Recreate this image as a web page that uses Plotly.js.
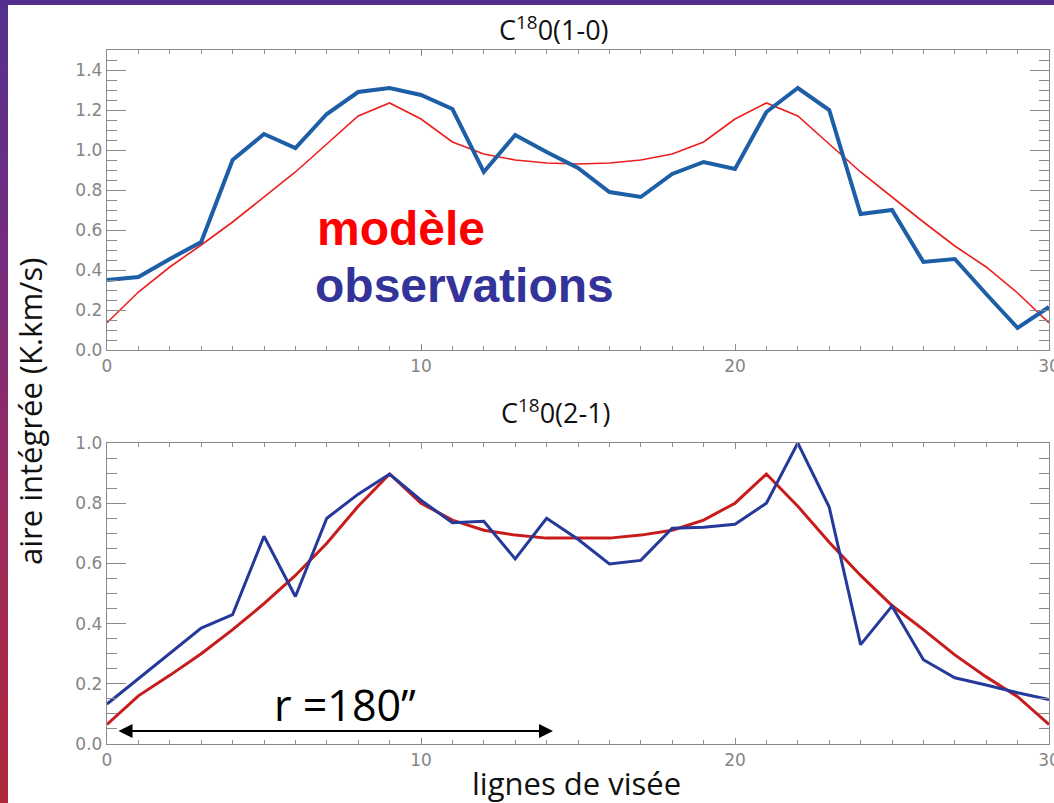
<!DOCTYPE html>
<html>
<head>
<meta charset="utf-8">
<script src="https://cdn.plot.ly/plotly-3.0.1.min.js"></script>
<style>
  html, body { margin: 0; padding: 0; }
  body { width: 1054px; height: 803px; position: relative; overflow: hidden; background: #ffffff; }
  #leftbar { position: absolute; left: 0; top: 0; width: 8px; height: 803px;
             background: linear-gradient(to bottom, #52308f 0%, #7a2c7c 35%, #9c2a5c 65%, #b0283a 100%); }
  #topbar { position: absolute; left: 0; top: 0; width: 1054px; height: 5px; background: #522f8f; }
  #chart { position: absolute; left: 0; top: 0; width: 1054px; height: 803px; }
</style>
</head>
<body>
<div id="leftbar"></div>
<div id="topbar"></div>
<div id="chart"></div>
<script>
// ---- data ----
const lines = [0,1,2,3,4,5,6,7,8,9,10,11,12,13,14,15,16,17,18,19,20,21,22,23,24,25,26,27,28,29,30];

// C18O (1-0)
const obs10 = [0.35,0.365,0.455,0.54,0.95,1.08,1.01,1.18,1.29,1.31,1.275,1.205,0.89,1.075,0.99,0.91,0.79,0.765,0.88,0.94,0.905,1.19,1.31,1.20,0.68,0.70,0.44,0.455,0.28,0.11,0.215];
const mod10 = [0.136,0.29,0.415,0.525,0.64,0.765,0.89,1.03,1.17,1.235,1.155,1.04,0.98,0.95,0.935,0.93,0.935,0.95,0.98,1.04,1.155,1.235,1.17,1.03,0.89,0.765,0.64,0.52,0.415,0.285,0.136];

// C18O (2-1)
const obs21 = [0.133,0.218,0.30,0.385,0.43,0.69,0.49,0.75,0.83,0.897,0.81,0.735,0.74,0.615,0.75,0.68,0.598,0.61,0.717,0.72,0.73,0.80,1.0,0.787,0.33,0.458,0.28,0.22,0.196,0.17,0.148];
const mod21 = [0.065,0.16,0.228,0.30,0.38,0.466,0.56,0.667,0.79,0.897,0.80,0.744,0.71,0.694,0.684,0.683,0.684,0.694,0.71,0.744,0.80,0.897,0.79,0.67,0.56,0.46,0.38,0.296,0.223,0.157,0.065];

const title1 = "C<sup>18</sup>0(1-0)";
const title2 = "C<sup>18</sup>0(2-1)";
const yTitle = "aire intégrée (K.km/s)";
const xTitle = "lignes de visée";
const labelModel = "modèle";
const labelObs = "observations";
const radiusLabel = "r =180’’";

// ---- layout helpers (pixel -> paper) ----
const W = 1054, H = 803;
const px = x => x / W;
const py = y => (H - y) / H;

const TICKC = '#8a8a8a';
const tickFont = { family: 'DejaVu Sans', size: 17, color: '#858585' };

function xAxis(anchor) {
  return {
    domain: [px(107), px(1049)], anchor: anchor, range: [0, 30],
    showgrid: false, zeroline: false, showline: true, linecolor: TICKC, linewidth: 1.2,
    mirror: 'ticks', ticks: 'inside', tickcolor: TICKC, ticklen: 6, tickwidth: 1,
    tickmode: 'linear', tick0: 0, dtick: 10, tickfont: tickFont, ticklabeloverflow: 'allow',
    minor: { ticks: 'inside', dtick: 1, ticklen: 4, tickcolor: TICKC, tickwidth: 1 }
  };
}
function yAxis(anchor, domain, range, dtick) {
  return {
    domain: domain, anchor: anchor, range: range,
    showgrid: false, zeroline: false, showline: true, linecolor: TICKC, linewidth: 1.2,
    mirror: 'ticks', ticks: 'inside', tickcolor: TICKC, ticklen: 19, tickwidth: 1,
    tickmode: 'linear', tick0: 0, dtick: dtick, tickformat: '.1f', tickfont: tickFont,
    ticklabeloverflow: 'allow',
    minor: { ticks: 'inside', dtick: 0.05, ticklen: 10, tickcolor: TICKC, tickwidth: 1 }
  };
}

const traces = [
  { x: lines, y: mod10, xaxis: 'x', yaxis: 'y', mode: 'lines', name: labelModel,
    line: { color: '#ec1e1e', width: 1.6 } },
  { x: lines, y: obs10, xaxis: 'x', yaxis: 'y', mode: 'lines', name: labelObs,
    line: { color: '#1d5fa6', width: 4 } },
  { x: lines, y: mod21, xaxis: 'x2', yaxis: 'y2', mode: 'lines', name: labelModel,
    line: { color: '#c81c1c', width: 3 } },
  { x: lines, y: obs21, xaxis: 'x2', yaxis: 'y2', mode: 'lines', name: labelObs,
    line: { color: '#25399a', width: 3 } }
];

const titleFont = { family: 'Open Sans', size: 27, color: '#111' };
const bigFont = { family: 'Open Sans', size: 31, color: '#111' };

const layout = {
  width: W, height: H,
  margin: { l: 0, r: 0, t: 0, b: 0 },
  paper_bgcolor: 'rgba(0,0,0,0)', plot_bgcolor: '#ffffff',
  showlegend: false,
  xaxis: xAxis('y'),
  yaxis: yAxis('x', [py(350), py(50)], [0, 1.5], 0.2),
  xaxis2: xAxis('y2'),
  yaxis2: yAxis('x2', [py(744), py(443)], [0, 1.0], 0.2),
  shapes: [
    { type: 'rect', xref: 'paper', yref: 'paper', x0: px(8), x1: 1, y0: 0, y1: py(5),
      fillcolor: '#ffffff', line: { width: 0 }, layer: 'below' }
  ],
  annotations: [
    { xref: 'paper', yref: 'paper', x: px(554), y: py(28), text: title1, showarrow: false,
      xanchor: 'center', yanchor: 'middle', font: titleFont },
    { xref: 'paper', yref: 'paper', x: px(556), y: py(411), text: title2, showarrow: false,
      xanchor: 'center', yanchor: 'middle', font: titleFont },
    { xref: 'paper', yref: 'paper', x: px(30), y: py(412), text: yTitle, showarrow: false,
      textangle: -90, xanchor: 'center', yanchor: 'middle', font: bigFont },
    { xref: 'paper', yref: 'paper', x: px(576), y: py(783), text: xTitle, showarrow: false,
      xanchor: 'center', yanchor: 'middle', font: bigFont },
    { xref: 'paper', yref: 'paper', x: px(315), y: py(228), text: '<b>' + labelModel + '</b>', showarrow: false,
      xanchor: 'left', yanchor: 'middle', font: { family: 'Liberation Sans', size: 48, color: '#ff0000' } },
    { xref: 'paper', yref: 'paper', x: px(313), y: py(285), text: '<b>' + labelObs + '</b>', showarrow: false,
      xanchor: 'left', yanchor: 'middle', font: { family: 'Liberation Sans', size: 48, color: '#333399' } },
    { xref: 'paper', yref: 'paper', x: px(345), y: py(704), text: radiusLabel, showarrow: false,
      xanchor: 'center', yanchor: 'middle', font: { family: 'Open Sans', size: 43, color: '#000000' } },
    { xref: 'paper', yref: 'paper', x: px(553), y: py(731), ax: px(117), ay: py(731),
      axref: 'paper', ayref: 'paper', text: '', showarrow: true,
      arrowhead: 2, startarrowhead: 2, arrowside: 'end+start', arrowsize: 1.4, startarrowsize: 1.4,
      arrowwidth: 2, arrowcolor: '#000000' }
  ]
};

Plotly.newPlot('chart', traces, layout, { displayModeBar: false, staticPlot: true });
</script>
</body>
</html>
